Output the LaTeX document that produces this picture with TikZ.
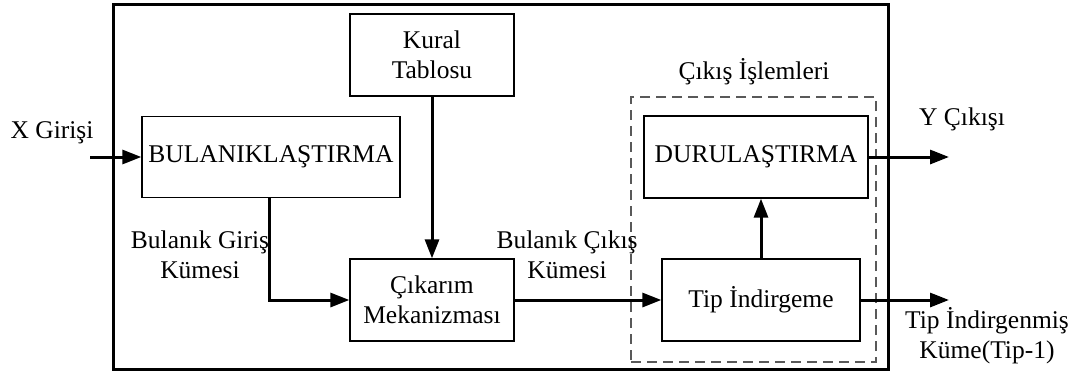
\documentclass[tikz,border=0pt]{standalone}
\usepackage{fontspec}
\setmainfont{Liberation Serif}
\usetikzlibrary{arrows.meta}
\begin{document}
\begin{tikzpicture}[x=1pt,y=-1pt,
  font=\fontsize{25.5}{30}\selectfont,
  blk/.style={draw, line width=1.3pt, inner sep=0pt, align=center},
  flow/.style={line width=3pt, -{Triangle[length=19pt,width=14pt]}},
  lbl/.style={align=center, inner sep=0pt}]
\useasboundingbox (0,0) rectangle (1081,376);
% enclosing system frame
\draw[line width=3pt] (113,4) rectangle (888,369);
% output-processing group
\node[draw=black!65, line width=1.5pt, dash pattern=on 10pt off 6pt,
      minimum width=245pt, minimum height=265pt, inner sep=0pt] (grp) at (753.5,229.5) {};
% blocks
\node[blk, minimum width=164pt, minimum height=82pt] (kural) at (432,55) {Kural\\Tablosu};
\node[blk, minimum width=258pt, minimum height=81pt] (bul) at (271,157) {BULANIKLAŞTIRMA};
\node[blk, minimum width=164pt, minimum height=82pt] (cik) at (432,300) {Çıkarım\\Mekanizması};
\node[blk, minimum width=224pt, minimum height=82pt] (duru) at (756,157) {DURULAŞTIRMA};
\node[blk, minimum width=198pt, minimum height=82pt] (tip) at (761,300) {Tip İndirgeme};
% free ends
\coordinate (xin) at (90,157);
\coordinate (yout) at (949,157);
\coordinate (tout) at (949,300);
% connectors
\draw[flow] (xin) -- (xin -| bul.west);
\draw[flow] (kural) -- (cik);
\draw[flow] ([xshift=-2pt]bul.south) |- (cik.west);
\draw[flow] (cik) -- (tip);
\draw[flow] (tip.north) -- (tip.north |- duru.south);
\draw[flow] (duru.east) -- (yout);
\draw[flow] (tip.east) -- (tout);
% labels
\node[lbl] (lx) at (52,133) {X Girişi};
\node[lbl] (lbg) at (200,255) {Bulanık Giriş\\Kümesi};
\node[lbl] (lbc) at (567,255) {Bulanık Çıkış\\Kümesi};
\node[lbl] (lgrp) at (754,72) {Çıkış İşlemleri};
\node[lbl] (ly) at (962,119) {Y Çıkışı};
\node[lbl] (lt) at (987,336) {Tip İndirgenmiş\\Küme(Tip-1)};
\end{tikzpicture}
\end{document}
